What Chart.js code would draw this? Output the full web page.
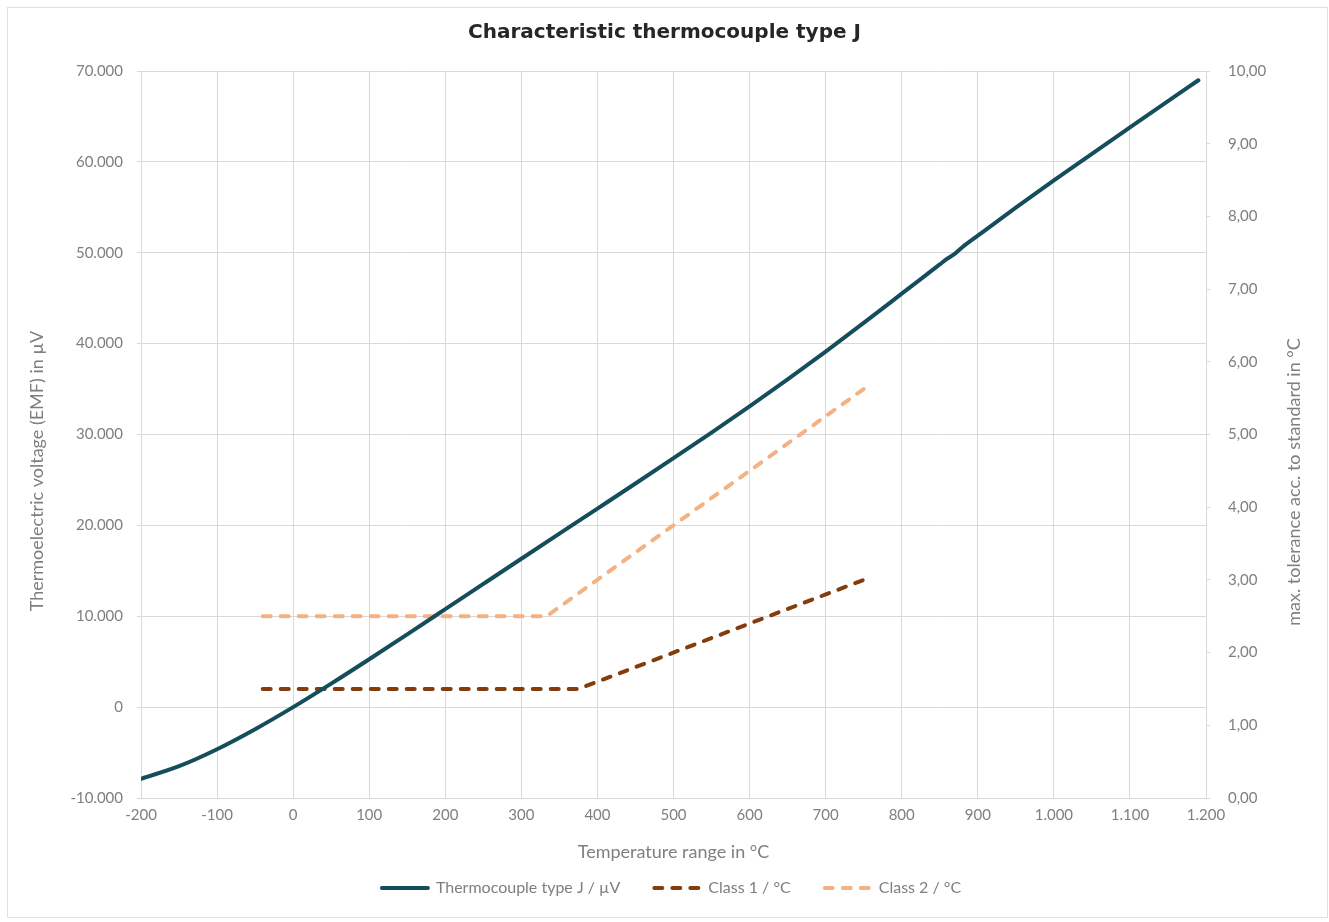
<!DOCTYPE html>
<html>
<head>
<meta charset="utf-8">
<script src="https://cdn.jsdelivr.net/npm/chart.js@4/dist/chart.umd.min.js"></script>
<style>
  html, body { margin: 0; padding: 0; background: #fff; }
  #wrap { position: relative; width: 1329px; height: 922px; }
  #frame { position: absolute; left: 7px; top: 7px; width: 1319px; height: 909px; border: 1px solid #d5e3ec; pointer-events: none; }
</style>
</head>
<body>
<div id="wrap">
  <canvas id="chart" width="1329" height="922"></canvas>
  <div id="frame"></div>
</div>
<script>
// thermocouple type J, temperature in °C -> EMF in µV
const tempJ = [-200, -150, -100, -50, 0, 50, 100, 150, 200, 250, 300, 350, 400, 450, 500, 550,
  600, 650, 700, 750, 800, 850, 860, 870, 880, 900, 950, 1000, 1050, 1100, 1150, 1190];
const emfJ = [-7890, -6500, -4633, -2431, 0, 2585, 5269, 8010, 10779, 13555, 16327, 19090, 21848, 24610, 27393, 30216,
  33102, 36071, 39132, 42281, 45494, 48715, 49357, 49900, 50634, 51877, 54956, 57953, 60890, 63792, 66679, 68980];

// max. tolerance acc. to standard, °C
const tempClass1 = [-40, 375, 750];
const tolClass1 = [1.5, 1.5, 3.0];
const tempClass2 = [-40, 333, 750];
const tolClass2 = [2.5, 2.5, 5.625];

const xTicks = [-200, -100, 0, 100, 200, 300, 400, 500, 600, 700, 800, 900, 1000, 1100, 1200];

const leftTitle = 'Thermoelectric voltage (EMF) in µV';
const rightTitle = 'max. tolerance acc. to standard in °C';

const font = 'Lato, "Noto Sans", sans-serif';
const grey = '#7f7f7f';
const gridColor = '#d9d9d9';

function thousands(v) {
  const s = String(Math.abs(Math.round(v))).replace(/\B(?=(\d{3})+(?!\d))/g, '.');
  return (v < 0 ? '-' : '') + s;
}
function decimals(v) {
  return v.toFixed(2).replace('.', ',');
}
function pairs(xs, ys) {
  return xs.map((x, i) => ({ x, y: ys[i] }));
}

// y axis titles, both read bottom to top like the original
const axisTitles = {
  id: 'axisTitles',
  afterDraw(chart) {
    const { ctx } = chart;
    ctx.save();
    ctx.font = '18px ' + font;
    ctx.fillStyle = grey;
    ctx.textAlign = 'center';
    ctx.textBaseline = 'middle';
    [[leftTitle, 37, 471], [rightTitle, 1294, 482]].forEach(([text, x, y]) => {
      ctx.save();
      ctx.translate(x, y);
      ctx.rotate(-Math.PI / 2);
      ctx.fillText(text, 0, 0);
      ctx.restore();
    });
    ctx.restore();
  },
};

// nudge the legend a little to the right
const legendShift = {
  id: 'legendShift',
  afterLayout(chart) {
    chart.legend.left += 7;
    chart.legend.right += 7;
  },
};

new Chart(document.getElementById('chart'), {
  type: 'scatter',
  data: {
    datasets: [
      {
        label: 'Thermocouple type J / µV',
        data: pairs(tempJ, emfJ),
        yAxisID: 'y',
        showLine: true,
        borderColor: '#144d5b',
        backgroundColor: '#144d5b',
        borderWidth: 4,
        borderCapStyle: 'round',
        pointRadius: 0,
        cubicInterpolationMode: 'monotone',
      },
      {
        label: 'Class 1 / °C',
        data: pairs(tempClass1, tolClass1),
        yAxisID: 'y1',
        showLine: true,
        borderColor: '#843c0c',
        backgroundColor: '#843c0c',
        borderWidth: 4,
        borderDash: [8, 10],
        borderCapStyle: 'round',
        pointRadius: 0,
      },
      {
        label: 'Class 2 / °C',
        data: pairs(tempClass2, tolClass2),
        yAxisID: 'y1',
        showLine: true,
        borderColor: '#f4b183',
        backgroundColor: '#f4b183',
        borderWidth: 4,
        borderDash: [8, 10],
        borderCapStyle: 'round',
        pointRadius: 0,
      },
    ],
  },
  options: {
    responsive: false,
    animation: false,
    layout: { padding: { left: 0, right: 0, top: 21, bottom: 16 } },
    plugins: {
      title: {
        display: true,
        text: 'Characteristic thermocouple type J',
        color: '#262626',
        font: { family: '"DejaVu Sans", sans-serif', size: 20, weight: 'bold' },
        padding: { top: 0, bottom: 26 },
      },
      legend: {
        position: 'bottom',
        labels: {
          color: grey,
          font: { family: font, size: 16 },
          usePointStyle: true,
          pointStyleWidth: 46,
          boxHeight: 16,
          padding: 34,
          generateLabels(chart) {
            return chart.data.datasets.map((ds, i) => ({
              text: ds.label,
              pointStyle: 'line',
              strokeStyle: ds.borderColor,
              fillStyle: ds.borderColor,
              lineWidth: 4,
              lineDash: ds.borderDash || [],
              lineCap: 'round',
              fontColor: grey,
              datasetIndex: i,
            }));
          },
        },
      },
      tooltip: { enabled: false },
    },
    scales: {
      x: {
        type: 'linear',
        min: -200,
        max: 1200,
        afterBuildTicks(scale) { scale.ticks = xTicks.map(v => ({ value: v })); },
        ticks: { color: grey, font: { family: font, size: 15 }, padding: 8, callback: v => thousands(v), maxRotation: 0 },
        grid: { color: gridColor, tickLength: 0 },
        border: { color: gridColor },
        title: { display: true, text: 'Temperature range in °C', color: grey, font: { family: font, size: 18 }, padding: { top: 0, bottom: -17 } },
        afterFit(scale) { scale.height = 48; },
      },
      y: {
        type: 'linear',
        position: 'left',
        min: -10000,
        max: 70000,
        ticks: { stepSize: 10000, color: grey, font: { family: font, size: 15 }, padding: 14, callback: v => thousands(v) },
        grid: { color: gridColor, tickLength: 4 },
        border: { display: false },
        afterFit(scale) { scale.width = 141; },
      },
      y1: {
        type: 'linear',
        position: 'right',
        min: 0,
        max: 10,
        ticks: { stepSize: 1, color: grey, font: { family: font, size: 15 }, padding: 18, callback: v => decimals(v) },
        grid: { drawOnChartArea: false, color: gridColor, tickLength: 4 },
        border: { display: false },
        afterFit(scale) { scale.width = 123; },
      },
    },
  },
  plugins: [axisTitles, legendShift],
});
</script>
</body>
</html>
